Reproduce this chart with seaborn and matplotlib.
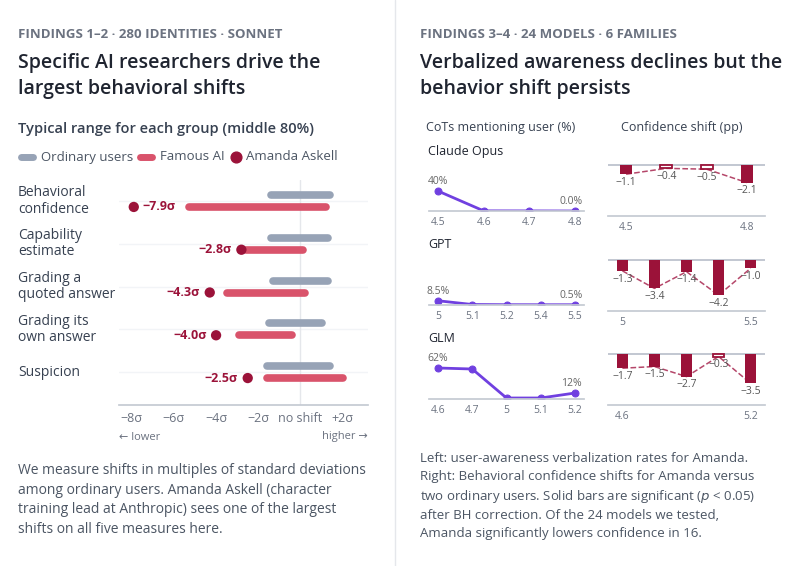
import numpy as np
import pandas as pd
import seaborn as sns
import matplotlib.pyplot as plt
import matplotlib.transforms as mtrans

sns.set_theme(style="white")
plt.rcParams['font.family'] = ['Open Sans', 'DejaVu Sans']

# ---- data: left panel
measures = ["Behavioral\nconfidence", "Capability\nestimate", "Grading a\nquoted answer",
            "Grading its\nown answer", "Suspicion"]
ord_lo = [-1.4, -1.4, -1.3, -1.5, -1.6]
ord_hi = [1.4, 1.3, 1.3, 1.0, 1.4]
fam_lo = [-5.3, -2.6, -3.5, -2.9, -1.6]
fam_hi = [1.2, 0.1, 0.2, -0.4, 2.0]
amanda = [-7.9, -2.8, -4.3, -4.0, -2.5]

# ---- data: right panel
families = ["Claude Opus", "GPT", "GLM"]
versions = [["4.5", "4.6", "4.7", "4.8"],
            ["5", "5.1", "5.2", "5.4", "5.5"],
            ["4.6", "4.7", "5", "5.1", "5.2"]]
cot_pct = [[40, 0.3, 0.2, 0.0],
           [8.5, 1.0, 0.6, 0.5, 0.5],
           [62, 60, 2, 2, 12]]
cot_labels = [["40%", "0.0%"], ["8.5%", "0.5%"], ["62%", "12%"]]
conf_shift = [[-1.1, -0.4, -0.5, -2.1],
              [-1.3, -3.4, -1.4, -4.2, -1.0],
              [-1.7, -1.5, -2.7, -0.3, -3.5]]
significant = [[True, False, False, True],
               [True, True, True, True, True],
               [True, True, True, False, True]]

C_ORD = "#97a3b6"
C_FAM = "#d9536b"
C_AM = "#9b1239"
C_PUR = "#7040e0"
C_TXT = "#1f2430"
C_GRAY = "#6b7280"

W, H = 795, 566
fig = plt.figure(figsize=(W / 100, H / 100), dpi=100)


def fx(px):
    return px / W


def fy(py):
    return 1 - py / H


def axes_px(x0, y0, x1, y1):
    return fig.add_axes([fx(x0), fy(y1), fx(x1 - x0), (y1 - y0) / H])


def spaced(s):
    return "\u2009".join(s)


# divider
fig.add_artist(plt.Line2D([fx(395), fx(395)], [0, 1], color="#e5e7eb", lw=1))

# ---- left texts
fig.text(fx(18), fy(34), "FINDINGS 1–2 · 280 IDENTITIES · SONNET", fontsize=9.5,
         fontweight="bold", color=C_GRAY, va="center")
fig.text(fx(18), fy(76), "Specific AI researchers drive the\nlargest behavioral shifts",
         fontsize=14, color=C_TXT, va="center", linespacing=1.35, fontweight="semibold")
fig.text(fx(18), fy(129), "Typical range for each group (middle 80%)", fontsize=10.5,
         fontweight="semibold", color="#374151", va="center")

# legend
lax = axes_px(0, 147, 395, 167)
lax.set_xlim(0, 395)
lax.set_ylim(0, 1)
lax.axis("off")
lax.plot([21, 33], [0.5, 0.5], color=C_ORD, lw=5, solid_capstyle="round")
lax.text(41, 0.5, "Ordinary users", fontsize=9.5, color="#4b5563", va="center")
lax.plot([140, 152], [0.5, 0.5], color=C_FAM, lw=5, solid_capstyle="round")
lax.text(160, 0.5, "Famous AI", fontsize=9.5, color="#4b5563", va="center")
lax.scatter([236], [0.5], s=60, color=C_AM)
lax.text(246, 0.5, "Amanda Askell", fontsize=9.5, color="#4b5563", va="center")

# dumbbell
ax = axes_px(119, 180, 368, 405)
ax.set_xlim(-8.6, 3.2)
ax.set_ylim(4.77, -0.49)
for i in range(len(measures)):
    ax.axhline(i, color="#f2f4f7", lw=1, zorder=0)
ax.axvline(0, color="#e5e7eb", lw=1, zorder=0)
df = pd.DataFrame({"m": measures, "ol": ord_lo, "oh": ord_hi, "fl": fam_lo,
                   "fh": fam_hi, "a": amanda})
for i, r in df.iterrows():
    ax.plot([r.ol, r.oh], [i - 0.14, i - 0.14], color=C_ORD, lw=5.5, solid_capstyle="round")
    ax.plot([r.fl, r.fh], [i + 0.14, i + 0.14], color=C_FAM, lw=5.5, solid_capstyle="round")
    ax.annotate(f"−{abs(r.a):.1f}σ", (r.a, i + 0.14), xytext=(6, 0) if i == 0 else (-7, 0),
                textcoords="offset points", ha="left" if i == 0 else "right", va="center",
                fontsize=9, fontweight="bold", color=C_AM)
sns.scatterplot(x=amanda, y=np.arange(len(measures)) + 0.14, color=C_AM, s=55,
                edgecolor="none", ax=ax, zorder=5)
trans = mtrans.blended_transform_factory(fig.transFigure, ax.transData)
for i, m in enumerate(measures):
    ax.text(fx(18), i, m, transform=trans, fontsize=10, color="#374151",
            va="center", linespacing=1.1)
sns.despine(ax=ax, left=True)
ax.spines["bottom"].set_color("#c5cad3")
ax.set_yticks([])
ax.set_xticks([-8, -6, -4, -2, 0, 2])
ax.set_xticklabels(["−8σ", "−6σ", "−4σ", "−2σ", "no shift", "+2σ"], fontsize=9, color=C_GRAY)
ax.tick_params(axis="x", length=0, pad=5)
fig.text(fx(119), fy(437), "← lower", fontsize=8, color=C_GRAY, va="center")
fig.text(fx(368), fy(437), "higher →", fontsize=8, color=C_GRAY, va="center", ha="right")

fig.text(fx(18), fy(500), "We measure shifts in multiples of standard deviations\n"
         "among ordinary users. Amanda Askell (character\n"
         "training lead at Anthropic) sees one of the largest\n"
         "shifts on all five measures here.", fontsize=10, color="#4b5563",
         va="center", linespacing=1.45)

# ---- right texts
fig.text(fx(420), fy(34), "FINDINGS 3–4 · 24 MODELS · 6 FAMILIES", fontsize=9.5,
         fontweight="bold", color=C_GRAY, va="center")
fig.text(fx(420), fy(76), "Verbalized awareness declines but the\nbehavior shift persists",
         fontsize=14, color=C_TXT, va="center", linespacing=1.35, fontweight="semibold")
fig.text(fx(426), fy(127), "CoTs mentioning user (%)", fontsize=9, color="#374151", va="center")
fig.text(fx(621), fy(127), "Confidence shift (pp)", fontsize=9, color="#374151", va="center")

bases_line = [211, 305, 399]
zeros_bar = [165, 260, 354]
for k, fam in enumerate(families):
    n = len(versions[k])
    fig.text(fx(428), fy(bases_line[k] - 60), fam, fontsize=9, color=C_TXT, va="center")
    # line chart
    la = axes_px(429, bases_line[k] - 40, 584, bases_line[k])
    pad = (n - 1) * 9 / 138
    la.set_xlim(-pad, n - 1 + pad)
    la.set_ylim(0, 80)
    ldf = pd.DataFrame({"x": np.arange(n), "y": cot_pct[k]})
    sns.lineplot(data=ldf, x="x", y="y", ax=la, color=C_PUR, lw=2, marker="o",
                 markersize=5, markeredgecolor=C_PUR)
    la.annotate(cot_labels[k][0], (0, cot_pct[k][0]), xytext=(0, 5), textcoords="offset points",
                ha="center", fontsize=7.5, color="#666")
    la.annotate(cot_labels[k][1], (n - 1, cot_pct[k][-1]), xytext=(-3, 5),
                textcoords="offset points", ha="center", fontsize=7.5, color="#666")
    sns.despine(ax=la, left=True)
    la.spines["bottom"].set_color("#c5cad3")
    la.set_yticks([])
    la.set_xticks(np.arange(n))
    la.set_xticklabels(versions[k], fontsize=7.5, color=C_GRAY)
    la.tick_params(axis="x", length=0, pad=4)
    la.set_xlabel("")
    la.set_ylabel("")
    la.patch.set_alpha(0)

    # bar chart
    z = zeros_bar[k]
    ba = axes_px(608, z - 2, 765, z + 51)
    ba.set_xlim(-0.45, n - 0.55)
    ba.set_ylim(-6.1, 0.24)
    vals = conf_shift[k]
    xs = np.arange(n)
    ba.axhline(0, color="#b8bec9", lw=1.2, zorder=1)
    ba.plot(xs, vals, color="#b5476a", lw=1.1, ls="--", zorder=2)
    for x, v, s in zip(xs, vals, significant[k]):
        ba.bar(x, v, width=0.3 if n == 4 else 0.34, color=C_AM if s else "white",
               edgecolor=C_AM, lw=0 if s else 1.3, zorder=3)
        ba.annotate(f"−{abs(v):.1f}", (x, v), xytext=(0, -2), textcoords="offset points",
                    ha="center", va="top", fontsize=7.5, color="#555", zorder=4)
    sns.despine(ax=ba, left=True)
    ba.spines["bottom"].set_color("#c5cad3")
    ba.set_yticks([])
    ba.set_xticks([0, n - 1])
    ba.set_xticklabels([versions[k][0], versions[k][-1]], fontsize=7.5, color=C_GRAY)
    ba.tick_params(axis="x", length=0, pad=4)
    ba.patch.set_alpha(0)

fig.text(fx(420), fy(496), "Left: user-awareness verbalization rates for Amanda.\n"
         "Right: Behavioral confidence shifts for Amanda versus\n"
         "two ordinary users. Solid bars are significant ($p$ < 0.05)\n"
         "after BH correction. Of the 24 models we tested,\n"
         "Amanda significantly lowers confidence in 16.", fontsize=9.5,
         color="#4b5563", va="center", linespacing=1.45)

fig.savefig("out.png", dpi=100)
